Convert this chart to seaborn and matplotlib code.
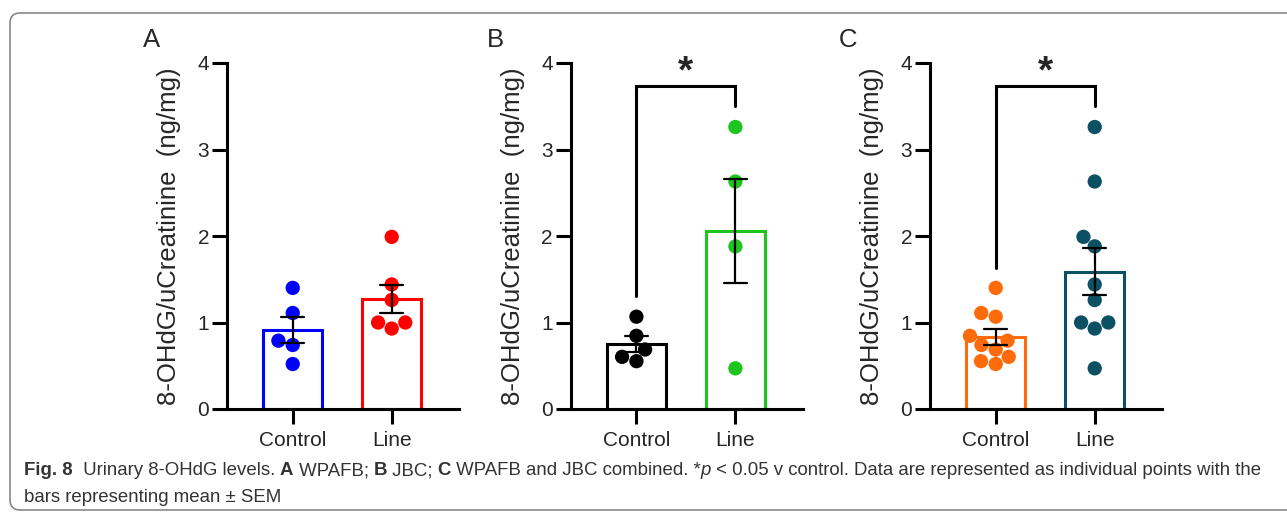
import matplotlib
matplotlib.use("Agg")
import matplotlib.pyplot as plt
import seaborn as sns
import pandas as pd
import numpy as np
from matplotlib.patches import FancyBboxPatch

# ---------------- data ----------------
groups = ["Control", "Line"]
a_control = [1.40, 1.11, 0.79, 0.74, 0.52]
a_line = [1.99, 1.44, 1.26, 0.93, 1.00, 1.00]
b_control = [1.067, 0.846, 0.688, 0.603, 0.553]
b_line = [3.26, 2.63, 1.88, 0.47]
c_control = a_control + b_control
c_line = a_line + b_line

panel_letters = ["A", "B", "C"]
y_label = "8-OHdG/uCreatinine  (ng/mg)"
y_ticks = [0, 1, 2, 3, 4]
significant = [False, True, True]

colors_a = ["#0000FF", "#FF0000"]
colors_b = ["#000000", "#1EC51E"]
colors_c = ["#FF6A0A", "#0B5163"]

caption_line1 = [
    ("Fig. 8", "bold", "normal"),
    ("  Urinary 8-OHdG levels. ", "normal", "normal"),
    ("A", "bold", "normal"),
    (" WPAFB; ", "normal", "normal"),
    ("B", "bold", "normal"),
    (" JBC; ", "normal", "normal"),
    ("C", "bold", "normal"),
    (" WPAFB and JBC combined. *", "normal", "normal"),
    ("p", "normal", "italic"),
    (" < 0.05 v control. Data are represented as individual points with the", "normal", "normal"),
]
caption_line2 = "bars representing mean \u00b1 SEM"

# ---------------- style ----------------
sns.set_theme(style="ticks")
plt.rcParams["font.family"] = ["Liberation Sans", "DejaVu Sans"]

W, H = 1287, 516
fig = plt.figure(figsize=(W / 100, H / 100), dpi=100)

panels = [
    (a_control, a_line, colors_a, 227),
    (b_control, b_line, colors_b, 570.7),
    (c_control, c_line, colors_c, 930),
]
letter_x = [152, 495, 848]

LW = 2.2
for i, (ctrl, line, cols, left_px) in enumerate(panels):
    ax = fig.add_axes([left_px / W, (H - 409) / H, 232 / W, 346 / H])
    df = pd.DataFrame({
        "group": ["Control"] * len(ctrl) + ["Line"] * len(line),
        "value": list(ctrl) + list(line),
    })
    pal = dict(zip(groups, cols))
    sns.barplot(data=df, x="group", y="value", hue="group", order=groups,
                hue_order=groups, palette=pal, errorbar="se", capsize=0.23,
                fill=False, width=0.6, linewidth=LW, legend=False, ax=ax,
                err_kws={"color": "black", "linewidth": 1.6, "zorder": 5})
    # colour error bar for teal series in panel C
    if i == 2:
        for ln in ax.lines:
            xd = np.asarray(ln.get_xdata(), dtype=float)
            if xd.size and xd.mean() > 0.5:
                ln.set_color(cols[1])
    for p in ax.patches:
        p.set_facecolor("white")
        p.set_zorder(1)
    sns.swarmplot(data=df, x="group", y="value", hue="group", order=groups,
                  hue_order=groups, palette=pal, size=10.3, legend=False, ax=ax,
                  zorder=3, edgecolor="none", linewidth=0)
    ax.set_xlim(-0.664, 1.68)
    ax.set_ylim(0, 4)
    ax.set_yticks(y_ticks)
    ax.set_xlabel("")
    ax.set_ylabel(y_label, fontsize=18.5)
    ax.yaxis.set_label_coords(-0.197, 0.5)
    sns.despine(ax=ax)
    for s in ["left", "bottom"]:
        ax.spines[s].set_linewidth(LW)
        ax.spines[s].set_color("black")
    ax.tick_params(axis="both", length=10.8, width=LW, labelsize=15, color="black")
    ax.tick_params(axis="y", pad=2)
    ax.tick_params(axis="x", pad=5)
    ax.patch.set_alpha(0)

    fig.text(letter_x[i] / W, 1 - 40 / H, panel_letters[i], fontsize=18.5,
             ha="center", va="center")

    if significant[i]:
        c_end = max(ctrl) + 0.235
        l_end = max(line) + 0.24
        top = max(max(ctrl), max(line)) + 0.47
        ax.plot([0, 0, 1, 1], [c_end, top, top, l_end], color="black",
                lw=LW, clip_on=False, solid_joinstyle="miter")
        ax.text(0.5, top + 0.04, "*", ha="center", va="baseline",
                fontsize=28, fontweight="bold", clip_on=False)

# ---------------- border ----------------
border = FancyBboxPatch((10 / 100, (H - 510) / 100), (1400 - 10) / 100, (510 - 13) / 100,
                        boxstyle="round,pad=0,rounding_size=0.1",
                        transform=fig.dpi_scale_trans, fill=False,
                        edgecolor="#7f7f7f", linewidth=1.1)
fig.add_artist(border)

# ---------------- caption ----------------
cap_family = ["Liberation Sans", "DejaVu Sans"]
cap_size = 13.4
cap_color = "#333333"
fig.canvas.draw()
renderer = fig.canvas.get_renderer()
x = 24
y = H - 475
for txt, weight, style in caption_line1:
    t = fig.text(x / W, y / H, txt, fontsize=cap_size, fontweight=weight,
                 fontstyle=style, family=cap_family, color=cap_color,
                 ha="left", va="baseline")
    bb = t.get_window_extent(renderer=renderer)
    x += bb.width
fig.text(24 / W, (H - 502) / H, caption_line2, fontsize=cap_size,
         family=cap_family, color=cap_color, ha="left", va="baseline")

fig.savefig("out.png", dpi=100)
